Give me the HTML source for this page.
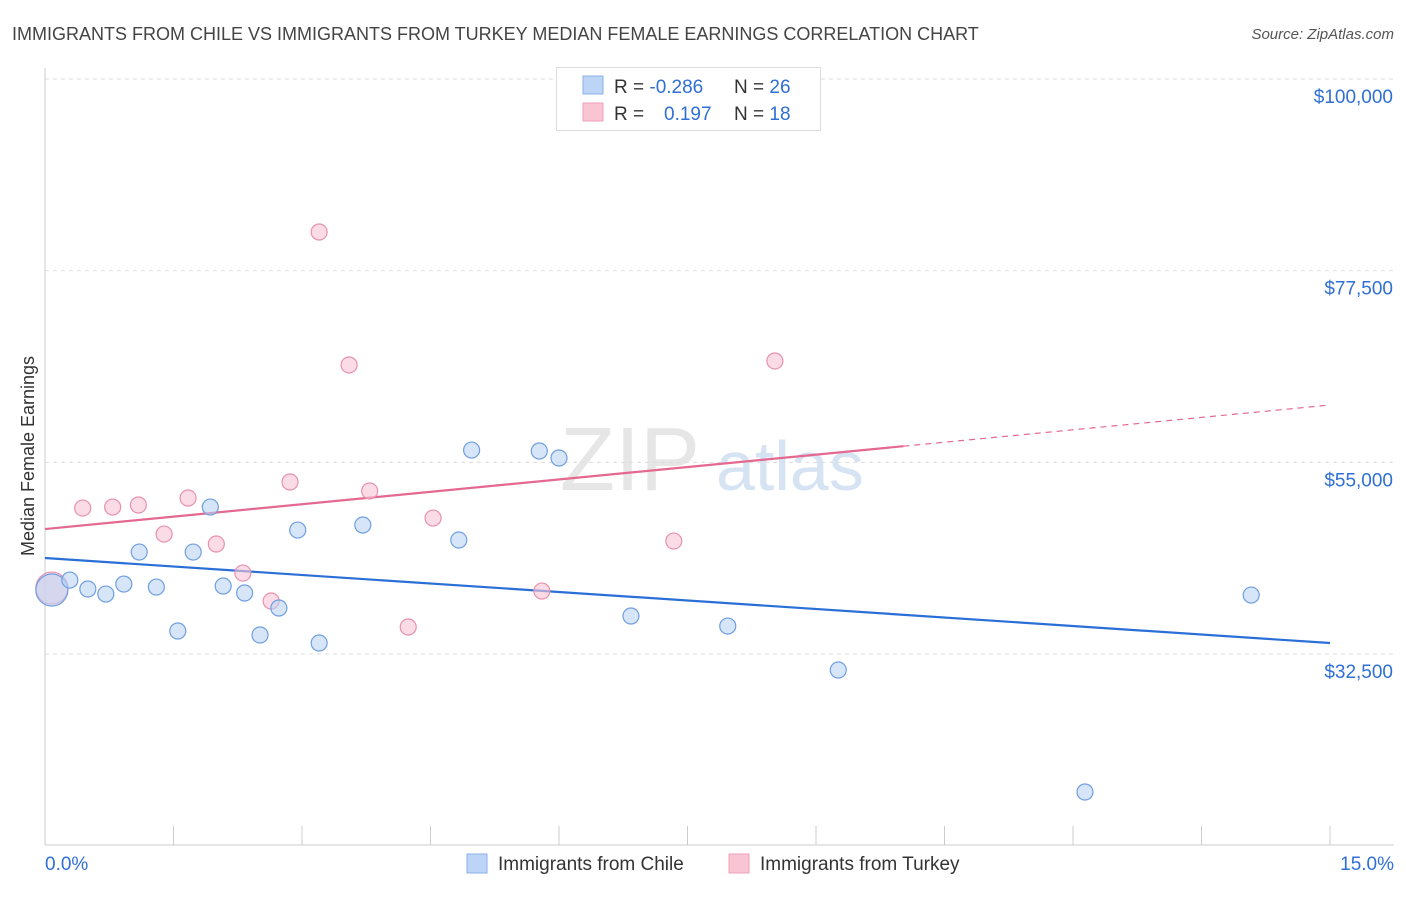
<!DOCTYPE html>
<html><head><meta charset="utf-8"><style>
body{margin:0;background:#fff;font-family:"Liberation Sans",sans-serif;}
svg text{font-family:"Liberation Sans",sans-serif;}
</style></head><body>
<svg id="c" width="1406" height="892" xmlns="http://www.w3.org/2000/svg">
<text x="12" y="40" font-size="18" fill="#444">IMMIGRANTS FROM CHILE VS IMMIGRANTS FROM TURKEY MEDIAN FEMALE EARNINGS CORRELATION CHART</text>
<text x="1394" y="39" font-size="15" fill="#555" font-style="italic" text-anchor="end">Source: ZipAtlas.com</text>
<text x="560" y="490" font-size="90" fill="#e6e6e6" font-family="Liberation Serif">ZIP</text>
<text x="716" y="490" font-size="70" fill="#d6e3f3">atlas</text>
<text transform="translate(34,456) rotate(-90)" font-size="18" fill="#333" text-anchor="middle">Median Female Earnings</text>
<g id="grid"></g><g id="axes"></g><g id="lines"></g><g id="pts"></g>
<g>
<rect x="556.5" y="67.5" width="264" height="63" fill="#fff" stroke="#ddd"/>
<rect x="583" y="76" width="20" height="18" fill="#bcd4f5" stroke="#8ab0e8"/>
<rect x="583" y="103" width="20" height="18" fill="#f9c5d5" stroke="#eea0b8"/>
<text x="614" y="93" font-size="19" fill="#333">R = <tspan fill="#2f6fd6">-0.286</tspan></text>
<text x="734" y="93" font-size="19" fill="#333">N = <tspan fill="#2f6fd6">26</tspan></text>
<text x="614" y="120" font-size="19" fill="#333">R = </text>
<text x="664" y="120" font-size="19" fill="#2f6fd6">0.197</text>
<text x="734" y="120" font-size="19" fill="#333">N = <tspan fill="#2f6fd6"> 18</tspan></text>
</g>
<g>
<rect x="467" y="854" width="20" height="19" fill="#bcd4f5" stroke="#8ab0e8"/>
<text x="498" y="870" font-size="19" fill="#333">Immigrants from Chile</text>
<rect x="729" y="854" width="20" height="19" fill="#f9c5d5" stroke="#eea0b8"/>
<text x="760" y="870" font-size="19" fill="#333">Immigrants from Turkey</text>
</g>
<text x="45" y="870" font-size="19" fill="#2f6fd6">0.0%</text>
<text x="1394" y="870" font-size="19" fill="#2f6fd6" text-anchor="end">15.0%</text>
</svg>
<script>
const yTicks=[100000,77500,55000,32500];
const yTickLabels=["$100,000","$77,500","$55,000","$32,500"];
const chileX=[0.08,0.29,0.50,0.71,0.92,1.10,1.30,1.55,1.73,1.93,2.08,2.33,2.51,2.73,2.95,3.20,3.71,4.83,4.98,5.77,6.00,6.84,7.97,9.26,12.14,14.08];
const chileY=[40010,41180,40130,39540,40710,44470,40360,35200,44470,49750,40480,39660,34730,37900,47050,33790,47640,45880,56440,56330,55510,36960,35780,30620,16300,39420];
const turkeyX=[0.08,0.44,0.79,1.09,1.39,1.67,2.00,2.31,2.64,2.86,3.20,3.55,3.79,4.24,4.53,5.80,7.34,8.52];
const turkeyY=[40240,49630,49750,49990,46580,50810,45410,42000,38720,52690,82040,66430,51640,35670,48460,39890,45760,66900];
const chileTrend=[43770,33790];
const turkeyTrend=[47170,61730];
const turkeySolidEnd=10.02;
const NS="http://www.w3.org/2000/svg";
const xs=v=>45+v/15*1285;
const ys=v=>79+(100000-v)/22500*191.67;
function mk(tag,attrs,parent){const e=document.createElementNS(NS,tag);for(const k in attrs)e.setAttribute(k,attrs[k]);document.getElementById(parent).appendChild(e);return e;}
yTicks.forEach((t,i)=>{
 const l=mk('line',{x1:45,x2:1394,y1:ys(t),y2:ys(t),stroke:'#ddd','stroke-dasharray':'4,4'},'grid');
 
 
 const tx=mk('text',{x:1393,y:ys(t)+24,'font-size':19,fill:'#2f6fd6','text-anchor':'end'},'grid');
 tx.textContent=yTickLabels[i];
 
 
});
let a=mk('line',{x1:45,x2:45,y1:68,y2:845,stroke:'#ccc'},'axes');


a=mk('line',{x1:45,x2:1394,y1:845,y2:845,stroke:'#ccc'},'axes');


for(let i=0;i<=10;i++){const t=mk('line',{x1:xs(i*1.5),x2:xs(i*1.5),y1:826,y2:845,stroke:'#ccc'},'axes');
 
 }
let l=mk('line',{x1:xs(0),y1:ys(chileTrend[0]),x2:xs(15),y2:ys(chileTrend[1]),stroke:'#2a6fd8','stroke-width':2.2},'lines');


const tY=x=>turkeyTrend[0]+(turkeyTrend[1]-turkeyTrend[0])*x/15;
l=mk('line',{x1:xs(0),y1:ys(tY(0)),x2:xs(turkeySolidEnd),y2:ys(tY(turkeySolidEnd)),stroke:'#e4688f','stroke-width':2.2},'lines');


l=mk('line',{x1:xs(turkeySolidEnd),y1:ys(tY(turkeySolidEnd)),x2:xs(15),y2:ys(tY(15)),stroke:'#e4688f','stroke-width':1.2,'stroke-dasharray':'6,5'},'lines');


function pts(X,Y,fill,stroke,name){X.forEach((x,i)=>{const r=i===0?16:8;
 const c=mk('circle',{cx:xs(x),cy:ys(Y[i]),r:r,fill:fill,'fill-opacity':0.6,stroke:stroke,'stroke-width':1.2},'pts');
 
 });}
pts(turkeyX,turkeyY,'#f9c5d5','#e891ac','turkey-point');
pts(chileX,chileY,'#bcd4f5','#6f9fe0','chile-point');
</script>
</body></html>
